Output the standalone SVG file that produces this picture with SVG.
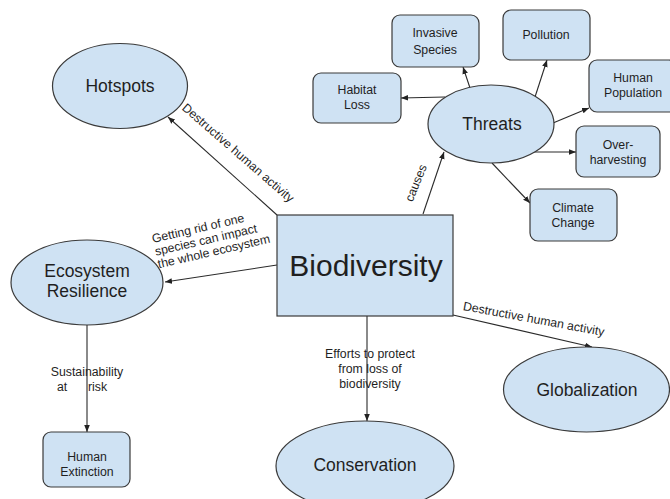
<svg xmlns="http://www.w3.org/2000/svg" width="670" height="499" viewBox="0 0 670 499">
  <style>
    text { font-family: "Liberation Sans", Arial, sans-serif; fill: #1f1f1f; }
    .shape { fill: #cfe2f3; stroke: #3a3a3a; stroke-width: 1.2; }
    .big { font-size: 17.5px; text-anchor: middle; }
    .small { font-size: 12.3px; text-anchor: middle; }
    .lbl { font-size: 12.3px; }
    .conn { stroke: #2a2a2a; stroke-width: 1.1; fill: none; marker-end: url(#arr); }
  </style>
  <defs>
    <marker id="arr" viewBox="0 0 10 10" refX="10" refY="5" markerWidth="7" markerHeight="7" markerUnits="userSpaceOnUse" orient="auto">
      <path d="M0,1 L10,5 L0,9 z" fill="#222"/>
    </marker>
  </defs>
  <rect width="670" height="499" fill="#ffffff"/>

  <g id="connectors">
    <path class="conn" d="M277,215 L168,117"/>
    <path class="conn" d="M277,265 L165,282"/>
    <path class="conn" d="M423,214 L444,152"/>
    <path class="conn" d="M367,316 L367,421"/>
    <path class="conn" d="M453,315 L592,347"/>
    <path class="conn" d="M87,325 L87,432"/>
    <path class="conn" d="M445,97 L401,98"/>
    <path class="conn" d="M470,88 L463,67"/>
    <path class="conn" d="M535,97 L547,60"/>
    <path class="conn" d="M553,123 L589,108"/>
    <path class="conn" d="M532,152 L576,152"/>
    <path class="conn" d="M492,163 L530,203"/>
  </g>

  <g id="connector-labels">
    <text class="lbl" text-anchor="middle" transform="translate(238,153) rotate(41)" y="4">Destructive human activity</text>
    <text class="lbl" text-anchor="middle" transform="translate(416,183) rotate(-68)" y="4">causes</text>
    <g transform="translate(153,243) rotate(-13)">
      <text class="lbl" x="0" y="0">Getting rid of one</text>
      <text class="lbl" x="0" y="13">species can impact</text>
      <text class="lbl" x="0" y="26">the whole ecosystem</text>
    </g>
    <text class="lbl" text-anchor="middle" x="87" y="376">Sustainability</text>
    <text class="lbl" y="391"><tspan x="57">at</tspan><tspan x="88">risk</tspan></text>
    <text class="lbl" text-anchor="middle" x="370" y="358">Efforts  to protect</text>
    <text class="lbl" text-anchor="middle" x="370" y="373">from loss of</text>
    <text class="lbl" text-anchor="middle" x="370" y="388">biodiversity</text>
    <text class="lbl" text-anchor="middle" transform="translate(533,323) rotate(10.5)">Destructive human activity</text>
  </g>

  <g id="biodiversity">
    <rect class="shape" x="277" y="215" width="176" height="101"/>
    <text x="366" y="276" font-size="30" text-anchor="middle">Biodiversity</text>
  </g>

  <g id="hotspots">
    <ellipse class="shape" cx="120" cy="86" rx="67.5" ry="42.5"/>
    <text class="big" x="120" y="92">Hotspots</text>
  </g>

  <g id="ecosystem-resilience">
    <ellipse class="shape" cx="87" cy="282.5" rx="76" ry="42.5"/>
    <text class="big" x="87" y="277">Ecosystem</text>
    <text class="big" x="87" y="297">Resilience</text>
  </g>

  <g id="human-extinction">
    <rect class="shape" x="43" y="432" width="87" height="55" rx="8"/>
    <text class="small" x="87" y="461">Human</text>
    <text class="small" x="87" y="476">Extinction</text>
  </g>

  <g id="conservation">
    <ellipse class="shape" cx="365" cy="466" rx="89" ry="45"/>
    <text class="big" x="365" y="471">Conservation</text>
  </g>

  <g id="globalization">
    <ellipse class="shape" cx="586.5" cy="389.5" rx="83" ry="42.5"/>
    <text class="big" x="587" y="396" font-size="18.5">Globalization</text>
  </g>

  <g id="threats">
    <ellipse class="shape" cx="491" cy="124" rx="63" ry="39"/>
    <text class="big" x="492" y="130" font-size="16.5">Threats</text>
  </g>

  <g id="habitat-loss">
    <rect class="shape" x="313" y="73" width="88" height="50" rx="8"/>
    <text class="small" x="357" y="94">Habitat</text>
    <text class="small" x="357" y="109">Loss</text>
  </g>

  <g id="invasive-species">
    <rect class="shape" x="392" y="15" width="87" height="52" rx="8"/>
    <text class="small" x="435" y="37">Invasive</text>
    <text class="small" x="435" y="54">Species</text>
  </g>

  <g id="pollution">
    <rect class="shape" x="503" y="10" width="87" height="50" rx="8"/>
    <text class="small" x="546" y="39">Pollution</text>
  </g>

  <g id="human-population">
    <rect class="shape" x="589" y="60" width="88" height="52" rx="8"/>
    <text class="small" x="633" y="82">Human</text>
    <text class="small" x="633" y="97">Population</text>
  </g>

  <g id="over-harvesting">
    <rect class="shape" x="576" y="126" width="84" height="51" rx="8"/>
    <text class="small" x="618" y="149">Over-</text>
    <text class="small" x="618" y="164">harvesting</text>
  </g>

  <g id="climate-change">
    <rect class="shape" x="530" y="189" width="87" height="52" rx="8"/>
    <text class="small" x="573" y="212">Climate</text>
    <text class="small" x="573" y="227">Change</text>
  </g>
</svg>
